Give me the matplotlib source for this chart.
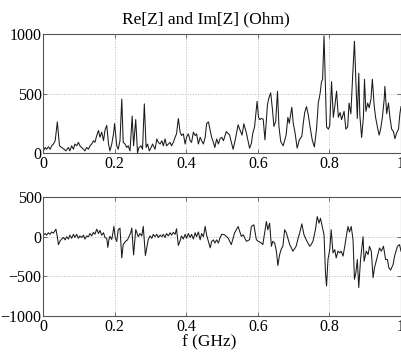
import numpy as np
import matplotlib
matplotlib.use('Agg')
import matplotlib.pyplot as plt

# Re[Z] (f in GHz, value in Ohm)
f_re = [0.000, 0.001, 0.006, 0.010, 0.015, 0.020, 0.024, 0.029, 0.034, 0.040,
        0.046, 0.052, 0.059, 0.064, 0.071, 0.075, 0.080, 0.085, 0.089, 0.094,
        0.099, 0.103, 0.108, 0.113, 0.117, 0.122, 0.127, 0.131, 0.136, 0.141,
        0.145, 0.150, 0.155, 0.159, 0.164, 0.169, 0.173, 0.178, 0.183, 0.187,
        0.192, 0.197, 0.200, 0.206, 0.210, 0.215, 0.220, 0.224, 0.229, 0.234,
        0.238, 0.243, 0.249, 0.253, 0.259, 0.264, 0.268, 0.274, 0.278, 0.283,
        0.288, 0.292, 0.297, 0.302, 0.306, 0.313, 0.318, 0.322, 0.327, 0.332,
        0.336, 0.341, 0.345, 0.355, 0.359, 0.364, 0.369, 0.373, 0.378, 0.383,
        0.387, 0.392, 0.397, 0.401, 0.406, 0.411, 0.415, 0.420, 0.425, 0.429,
        0.434, 0.439, 0.443, 0.448, 0.453, 0.457, 0.462, 0.467, 0.471, 0.476,
        0.480, 0.485, 0.490, 0.494, 0.499, 0.504, 0.512, 0.521, 0.531, 0.537,
        0.545, 0.550, 0.556, 0.561, 0.568, 0.577, 0.582, 0.586, 0.591, 0.598,
        0.602, 0.606, 0.610, 0.615, 0.620, 0.627, 0.631, 0.636, 0.641, 0.645,
        0.650, 0.655, 0.659, 0.664, 0.671, 0.679, 0.684, 0.688, 0.695, 0.699,
        0.704, 0.710, 0.716, 0.723, 0.727, 0.731, 0.736, 0.741, 0.746, 0.752,
        0.758, 0.764, 0.769, 0.774, 0.778, 0.781, 0.785, 0.788, 0.792, 0.797,
        0.801, 0.806, 0.811, 0.815, 0.820, 0.825, 0.830, 0.834, 0.841, 0.846,
        0.851, 0.855, 0.860, 0.865, 0.870, 0.874, 0.878, 0.882, 0.885, 0.890,
        0.895, 0.898, 0.902, 0.907, 0.911, 0.916, 0.920, 0.925, 0.929, 0.934,
        0.939, 0.943, 0.948, 0.953, 0.955, 0.960, 0.965, 0.969, 0.974, 0.979,
        0.983, 0.988, 0.993, 0.997, 1.000]
re_vals = [0, 17, 46, 31, 52, 31, 60, 75, 103, 261,
           60, 46, 31, 17, 46, 17, 60, 31, 75, 60,
           89, 60, 46, 31, 17, 46, 31, 60, 75, 103,
           89, 146, 189, 132, 175, 103, 189, 232, 75, 17,
           75, 161, 247, 60, 31, 103, 453, 89, 75, 46,
           60, 17, 310, 60, 281, 0, 46, 60, 31, 413,
           46, 75, 17, 46, 75, 31, 118, 89, 75, 103,
           60, 118, 60, 89, 60, 89, 132, 161, 290, 175,
           146, 161, 75, 132, 161, 103, 89, 175, 146, 161,
           75, 132, 103, 75, 132, 247, 261, 189, 132, 89,
           46, 118, 75, 118, 132, 103, 180, 152, 31, 110,
           237, 195, 150, 245, 170, 40, 80, 166, 220, 434,
           300, 280, 290, 285, 110, 406, 463, 506, 364, 223,
           265, 519, 223, 96, 60, 150, 300, 250, 385, 250,
           170, 40, 110, 140, 250, 340, 390, 320, 220, 110,
           50, 200, 420, 500, 600, 620, 985, 650, 220, 200,
           230, 600, 300, 390, 520, 300, 340, 280, 350, 200,
           220, 420, 330, 650, 940, 600, 290, 670, 320, 130,
           300, 620, 350, 420, 380, 450, 620, 400, 300, 220,
           150, 200, 300, 450, 560, 330, 420, 300, 200, 180,
           120, 170, 200, 330, 390]

# Im[Z]
f_im = [0.000, 0.001, 0.006, 0.010, 0.015, 0.020, 0.024, 0.029, 0.034, 0.036,
        0.040, 0.043, 0.048, 0.052, 0.057, 0.062, 0.066, 0.071, 0.075, 0.080,
        0.085, 0.089, 0.094, 0.099, 0.103, 0.108, 0.113, 0.117, 0.122, 0.127,
        0.131, 0.136, 0.141, 0.145, 0.150, 0.155, 0.159, 0.164, 0.169, 0.173,
        0.178, 0.181, 0.184, 0.187, 0.192, 0.195, 0.198, 0.202, 0.206, 0.210,
        0.215, 0.220, 0.224, 0.230, 0.236, 0.241, 0.245, 0.248, 0.253, 0.259,
        0.266, 0.271, 0.276, 0.280, 0.286, 0.294, 0.299, 0.304, 0.308, 0.313,
        0.318, 0.322, 0.327, 0.332, 0.336, 0.341, 0.345, 0.350, 0.355, 0.359,
        0.364, 0.369, 0.373, 0.378, 0.383, 0.387, 0.392, 0.397, 0.401, 0.406,
        0.411, 0.415, 0.420, 0.425, 0.429, 0.434, 0.439, 0.443, 0.448, 0.453,
        0.457, 0.462, 0.467, 0.471, 0.476, 0.480, 0.485, 0.490, 0.494, 0.499,
        0.507, 0.517, 0.526, 0.535, 0.545, 0.554, 0.559, 0.568, 0.577, 0.582,
        0.589, 0.596, 0.601, 0.610, 0.614, 0.619, 0.624, 0.628, 0.633, 0.638,
        0.642, 0.647, 0.652, 0.656, 0.661, 0.666, 0.670, 0.675, 0.680, 0.684,
        0.689, 0.694, 0.698, 0.703, 0.707, 0.712, 0.717, 0.723, 0.729, 0.735,
        0.740, 0.745, 0.749, 0.754, 0.761, 0.766, 0.771, 0.775, 0.780, 0.785,
        0.789, 0.792, 0.796, 0.801, 0.805, 0.810, 0.815, 0.819, 0.824, 0.829,
        0.833, 0.838, 0.843, 0.847, 0.852, 0.856, 0.861, 0.866, 0.870, 0.874,
        0.878, 0.882, 0.887, 0.894, 0.897, 0.903, 0.908, 0.912, 0.917, 0.922,
        0.926, 0.934, 0.940, 0.945, 0.951, 0.957, 0.962, 0.966, 0.971, 0.978,
        0.982, 0.990, 0.996, 1.000]
im_vals = [0, 20, 40, 20, 50, 30, 60, 45, 80, 95,
           0, -100, -50, -30, -10, -40, 0, -30, 20, -20,
           30, -10, 30, -20, 10, -10, 20, -30, 10, 0,
           40, 10, 55, 30, 95, 40, 80, 20, 50, -10,
           -20, -135, -40, 5, -35, 40, 130, -20, -60, 88,
           108, -267, -100, -60, -40, 10, 50, 110, -230, 90,
           0, 40, 10, 130, -237, -35, 10, -20, 30, 0,
           30, -10, 20, 0, 30, -10, 40, 10, 50, 20,
           55, 30, 100, -110, -50, 10, -30, 30, -20, 40,
           -10, 30, -30, 50, 0, 60, -40, 40, 0, 130,
           20, -60, -140, -60, -40, -80, -40, -80, -20, 30,
           25, -17, -100, 46, 129, 4, 25, -58, -38, 129,
           150, -38, -58, -79, -100, 46, 192, 88, 171, -121,
           -58, -79, -183, -363, -225, -150, -121, 88, 46, -17,
           -100, -142, -183, -150, -121, -30, 46, 162, 25, -38,
           -80, -121, -100, -58, 88, 254, 171, 233, 129, 25,
           -454, -621, -288, -163, 88, -204, -163, -267, -183, -204,
           -183, -245, -121, 0, 129, 60, 129, -38, -538, -454,
           -288, -642, -288, 0, -310, -183, -225, -121, -183, -517,
           -392, -246, -142, -183, -121, -288, -288, -392, -421, -350,
           -246, -121, -100, -183]

plt.rcParams['font.family'] = ['Liberation Serif', 'DejaVu Serif']

fig = plt.figure(figsize=(4.02, 3.59), dpi=100)
ax1 = fig.add_axes([0.107, 0.574, 0.8905, 0.331])
ax2 = fig.add_axes([0.107, 0.120, 0.8905, 0.331])

for ax, f, v, lim, ticks in [(ax1, f_re, re_vals, (0, 1000), [0, 500, 1000]),
                             (ax2, f_im, im_vals, (-1000, 500), [-1000, -500, 0, 500])]:
    ax.plot(f, v, color='#1a1a1a', lw=0.75)
    ax.set_xlim(0, 1)
    ax.set_ylim(*lim)
    ax.set_yticks(ticks)
    ax.set_xticks([0, 0.2, 0.4, 0.6, 0.8, 1.0])
    ax.set_xticklabels(['0', '0.2', '0.4', '0.6', '0.8', '1'])
    ax.grid(True, linestyle=':', color='#bbbbbb', lw=0.7)
    ax.tick_params(direction='in', length=3, width=0.6, labelsize=11.5,
                   top=True, right=True, pad=2, color='#555555')
    ax.tick_params(axis='y', pad=1)
    for s in ax.spines.values():
        s.set_color('#555555')
        s.set_linewidth(0.8)

fig.text(0.512, 0.945, 'Re[Z] and Im[Z] (Ohm)', fontsize=12.5,
         ha='center', va='center')
fig.text(0.52, 0.045, 'f (GHz)', fontsize=12.5, ha='center', va='center')

fig.savefig('out.png', dpi=100)
